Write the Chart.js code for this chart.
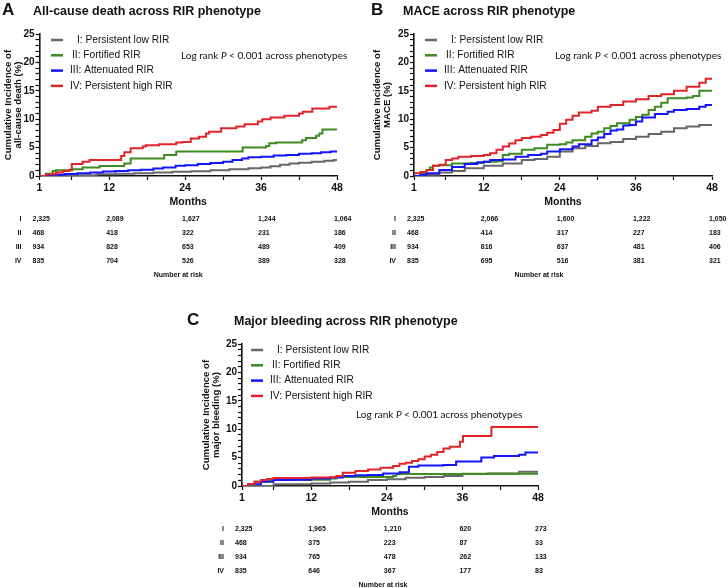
<!DOCTYPE html>
<html>
<head>
<meta charset="utf-8">
<script src="https://cdn.jsdelivr.net/npm/chart.js@4.4.1/dist/chart.umd.min.js"></script>
<style>
  body { margin: 0; background: #fff; width: 728px; height: 588px; position: relative; overflow: hidden; }
  .panel { position: absolute; }
</style>
</head>
<body>
<div class="panel" style="left:0;top:0;width:364px;height:290px"><canvas id="chartA"></canvas></div>
<div class="panel" style="left:364px;top:0;width:364px;height:290px"><canvas id="chartB"></canvas></div>
<div class="panel" style="left:170px;top:310px;width:380px;height:278px"><canvas id="chartC"></canvas></div>
<script>
"use strict";

// groups
const groupNames = ["I", "II", "III", "IV"];
const groupLabels = ["I: Persistent low RIR", "II: Fortified RIR", "III: Attenuated RIR", "IV: Persistent high RIR"];
const groupColors = ["#676767", "#3d8b21", "#1414ff", "#e0242a"];

// x axis
const xTicks = [1, 6, 12, 18, 24, 30, 36, 42, 48];
const xLabels = [1, 12, 24, 36, 48];

// A: all-cause death, [month, %]
const deathI = [[1,0],[4,0.05],[7,0.15],[10,0.3],[13,0.4],[16,0.5],[19,0.6],[22,0.75],[25,0.85],[28,1.0],[31,1.2],[34,1.35],[36,1.5],[37.5,1.7],[39,2.0],[40.5,2.2],[42,2.35],[44,2.5],[46,2.7],[47.5,2.8],[48,2.8]];
const deathII = [[1,0],[2,0.4],[3.1,0.9],[3.6,1.0],[6.2,1.2],[7.8,1.5],[10.5,1.75],[14.4,2.2],[15.4,3.1],[20.7,3.7],[22.6,4.3],[33.1,5.0],[36.8,5.3],[37.3,5.75],[38.4,5.9],[42.5,6.3],[43.1,6.7],[44.7,7.1],[45.2,7.5],[45.7,8.2],[48,8.3]];
const deathIII = [[1,0],[3,0.2],[5,0.35],[7,0.5],[9,0.6],[11,0.8],[13,0.9],[15,1.0],[17,1.1],[19,1.3],[20.5,1.5],[22.5,1.8],[24,1.9],[26,2.1],[28,2.3],[30,2.5],[31.5,2.8],[33,3.1],[34,3.3],[36,3.4],[38,3.6],[40,3.7],[42,3.9],[44,4.0],[45.5,4.2],[47,4.3],[48,4.3]];
const deathIV = [[1,0],[2,0.3],[3.6,0.6],[4.7,0.9],[5.7,1.1],[6.1,2.1],[7.8,2.5],[8.9,2.8],[13.9,3.5],[14.4,4.2],[15.4,4.9],[17.3,5.2],[17.8,5.4],[19.9,5.6],[22.6,5.9],[23.6,6.0],[24.9,6.6],[26.2,6.9],[27.3,7.5],[27.8,7.8],[29.7,8.4],[32.1,8.7],[33.4,9.1],[35.5,9.6],[36.2,10.0],[37.5,10.3],[39.7,10.6],[42.0,11.0],[42.6,11.3],[44.1,11.9],[46.8,12.2],[48,12.2]];
const deathRisk = [
  ["2,325", "2,089", "1,627", "1,244", "1,064"],
  ["468", "418", "322", "231", "186"],
  ["934", "828", "653", "489", "409"],
  ["835", "704", "526", "389", "328"]
];

// B: MACE
const maceI = [[1,0],[3,0.2],[5,0.6],[7,0.9],[9,1.35],[12,1.8],[15,2.2],[18,2.8],[20,3.0],[22,3.4],[24,4.3],[26,4.9],[28,5.3],[30,5.75],[32,6.0],[34,6.5],[36,6.9],[38,7.4],[40,7.8],[42,8.4],[44,8.7],[46,9.0],[48,9.0]];
const maceII = [[1,0],[2,0.5],[3,1.05],[3.5,1.5],[4,1.8],[5,1.9],[7,2.2],[10,2.3],[12,2.5],[14,2.6],[15,3.7],[16,3.9],[18,4.6],[20,4.9],[22,5.5],[24,5.6],[25,5.9],[26,6.3],[28,6.9],[29,7.5],[30,7.8],[31,8.4],[32,8.8],[33,9.3],[35,9.9],[36,10.4],[37,10.8],[38,11.6],[39,12.2],[40,12.9],[41,13.7],[44,13.8],[45,14.1],[46,15.0],[48,15.0]];
const maceIII = [[1,0],[2,0.2],[3,0.5],[5,1.05],[7,1.6],[9,2.1],[11,2.4],[12,2.5],[13,2.8],[15,2.9],[17,3.4],[19,3.7],[21,3.9],[22,4.3],[24,4.7],[26,5.2],[27,5.6],[29,6.3],[30,6.8],[31,7.4],[32,8.0],[33,8.2],[34,8.9],[35,9.0],[36,9.6],[37,10.3],[39,10.9],[41,11.3],[42,11.6],[44,11.8],[46,12.2],[47,12.5],[48,12.6]];
const maceIV = [[1,0.5],[2,0.7],[3,1.05],[4,1.8],[5,2.0],[6,2.8],[7,3.1],[8,3.4],[10,3.5],[12,3.7],[13,4.0],[14,4.6],[15,5.2],[16,5.7],[17,6.3],[18,6.7],[19.5,6.9],[21,7.2],[22,7.6],[23,8.1],[24,9.2],[25,9.9],[26,10.6],[27,11.2],[29,11.5],[30,12.2],[32,12.5],[34,13.1],[36,13.5],[38,14.1],[40,14.4],[42,15.0],[44,15.7],[46,16.4],[47,17.1],[48,17.1]];
const maceRisk = [
  ["2,325", "2,066", "1,600", "1,222", "1,050"],
  ["468", "414", "317", "227", "183"],
  ["934", "816", "637", "481", "406"],
  ["835", "695", "516", "381", "321"]
];

// C: major bleeding
const bleedI = [[1,0],[6,0.3],[12,0.45],[15,0.6],[18,0.75],[21,1.05],[24,1.2],[27,1.45],[30,1.6],[33,1.75],[36,2.1],[40,2.2],[45,2.5],[48,2.5]];
const bleedII = [[1,0],[3,0.75],[5,1.05],[12,1.1],[15,1.3],[16,1.6],[25,1.75],[25.5,2.1],[36,2.15],[48,2.2]];
const bleedIII = [[1,0],[2,0.3],[4,0.75],[6,1.05],[9,1.1],[12,1.3],[15,1.5],[17,1.75],[19,1.9],[21,1.95],[23.4,2.2],[26,2.4],[27.5,3.4],[29,3.6],[33,3.7],[35,4.3],[39,5.0],[41,5.3],[45,5.5],[46,5.9],[48,5.9]];
const bleedIV = [[1,0],[2,0.35],[3,0.75],[4,1.05],[5,1.25],[6,1.4],[12,1.5],[15,1.55],[16,1.75],[17,2.35],[19,2.65],[21,2.9],[23,3.2],[25,3.5],[26,3.9],[27,4.1],[28,4.4],[29,4.7],[30,5.2],[31,5.5],[32,6.0],[33,6.6],[34,6.9],[35.6,7.8],[36.1,8.8],[40.6,10.4],[48,10.4]];
const bleedRisk = [
  ["2,325", "1,965", "1,210", "620", "273"],
  ["468", "375", "223", "87", "33"],
  ["934", "765", "478", "262", "133"],
  ["835", "646", "367", "177", "83"]
];

const FONT = "Arial, 'Liberation Sans', sans-serif";
Chart.defaults.font.family = FONT;
Chart.defaults.color = "#111";

const panelExtras = {
  id: "panelExtras",
  afterDraw(chart, args, o) {
    const { ctx, chartArea: a, scales: { x } } = chart;
    ctx.save();
    ctx.fillStyle = "#111";

    // heading
    ctx.textBaseline = "alphabetic";
    ctx.textAlign = "left";
    ctx.font = "bold 17px " + FONT;
    ctx.fillText(o.letter, o.letterX, 15);
    ctx.font = "bold 12.5px " + FONT;
    ctx.fillText(o.title, o.titleX, 14.5);

    // legend inside plot
    ctx.textBaseline = "middle";
    ctx.font = "10.2px " + FONT;
    const indent = [7, 2, 0, 0];
    groupLabels.forEach((label, i) => {
      const y = a.top + 6 + i * 15.3;
      ctx.strokeStyle = groupColors[i];
      ctx.lineWidth = 2.5;
      ctx.beginPath();
      ctx.moveTo(a.left + o.legendX, y);
      ctx.lineTo(a.left + o.legendX + 12, y);
      ctx.stroke();
      ctx.fillText(label, a.left + o.legendTextX + indent[i], y);
    });

    // log rank note
    let lx = a.left + o.logX;
    const ly = a.top + o.logY;
    ctx.font = "10px Lato, sans-serif";
    ctx.fillText("Log rank ", lx, ly);
    lx += ctx.measureText("Log rank ").width;
    ctx.font = "italic 10px Lato, sans-serif";
    ctx.fillText("P", lx, ly);
    lx += ctx.measureText("P").width;
    ctx.font = "10px Lato, sans-serif";
    ctx.fillText(" < 0.001 across phenotypes", lx, ly);

    // number at risk
    ctx.font = "bold 7px " + FONT;
    o.risk.forEach((row, r) => {
      const y = a.bottom + 43 + r * 14;
      ctx.textAlign = "right";
      ctx.fillText(groupNames[r], a.left - 18, y);
      ctx.textAlign = "left";
      row.forEach((val, c) => {
        ctx.fillText(val, x.getPixelForValue(xLabels[c]) - (c === 0 ? 7 : 3), y);
      });
    });
    ctx.textAlign = "center";
    ctx.fillText("Number at risk", (a.left + a.right) / 2 + o.narShift, a.bottom + 99);
    ctx.restore();
  }
};

function createKmChart(id, series, yTitle, p) {
  const ctx = document.getElementById(id).getContext("2d");
  return new Chart(ctx, {
    type: "line",
    data: {
      datasets: series.map((s, i) => ({
        label: groupLabels[i],
        data: s.map(([m, v]) => ({ x: m, y: v })),
        borderColor: groupColors[i],
        borderWidth: 2,
        stepped: true,
        pointRadius: 0,
        fill: false,
        order: 4 - i,
      })),
    },
    options: {
      responsive: true,
      maintainAspectRatio: false,
      animation: false,
      layout: { padding: { left: 0, top: 34, right: p.right, bottom: p.bottom } },
      scales: {
        x: {
          type: "linear",
          min: 1,
          max: 48,
          afterBuildTicks: (s) => {
            s.ticks = xTicks.map((v) => ({ value: v }));
          },
          afterFit: (s) => {
            s.height = 32;
          },
          grid: { drawOnChartArea: false, drawTicks: true, tickLength: 4, tickColor: "#111", tickWidth: 1.2 },
          border: { color: "#111", width: 1.6 },
          ticks: {
            autoSkip: false,
            maxRotation: 0,
            padding: 2,
            color: "#111",
            font: { size: 10.5, weight: "bold" },
            callback: (v) => (xLabels.includes(v) ? v : ""),
          },
          title: { display: true, text: "Months", padding: 0, color: "#111", font: { size: 10.5, weight: "bold", lineHeight: 1.2 } },
        },
        y: {
          min: 0,
          max: 25,
          afterFit: (s) => {
            s.width = p.yWidth;
          },
          grid: { drawOnChartArea: false, drawTicks: true, tickLength: 4, tickColor: "#111", tickWidth: 1.2 },
          border: { color: "#111", width: 1.6 },
          ticks: {
            stepSize: 1,
            autoSkip: false,
            padding: 1,
            color: "#111",
            font: { size: 10, weight: "bold" },
            callback: (v) => (v % 5 === 0 ? v : ""),
          },
          title: {
            display: true,
            text: ["Cumulative Incidence of", yTitle],
            color: "#111",
            padding: { top: p.yTitlePad, bottom: 0 },
            font: { size: 9.6, weight: "bold", lineHeight: 1.04 },
          },
        },
      },
      plugins: {
        legend: { display: false },
        tooltip: { enabled: false },
        panelExtras: p,
      },
    },
    plugins: [panelExtras],
  });
}

createKmChart("chartA", [deathI, deathII, deathIII, deathIV], "all-cause death (%)", {
  right: 27, bottom: 82, yWidth: 39.5, yTitlePad: 3.5,
  letter: "A", letterX: 2, title: "All-cause death across RIR phenotype", titleX: 33,
  legendX: 11.5, legendTextX: 30.5, logX: 141.5, logY: 22, risk: deathRisk, narShift: -10,
});
createKmChart("chartB", [maceI, maceII, maceIII, maceIV], "MACE (%)", {
  right: 16, bottom: 82, yWidth: 50, yTitlePad: 8.5,
  letter: "B", letterX: 7, title: "MACE across RIR phenotype", titleX: 39,
  legendX: 11, legendTextX: 30, logX: 141, logY: 22, risk: maceRisk, narShift: -24,
});
createKmChart("chartC", [bleedI, bleedII, bleedIII, bleedIV], "major bleeding (%)", {
  right: 12, bottom: 70, yWidth: 72, yTitlePad: 31.5,
  letter: "C", letterX: 17, title: "Major bleeding across RIR phenotype", titleX: 64,
  legendX: 9, legendTextX: 28, logX: 114, logY: 71, risk: bleedRisk, narShift: -7,
});
</script>
</body>
</html>
